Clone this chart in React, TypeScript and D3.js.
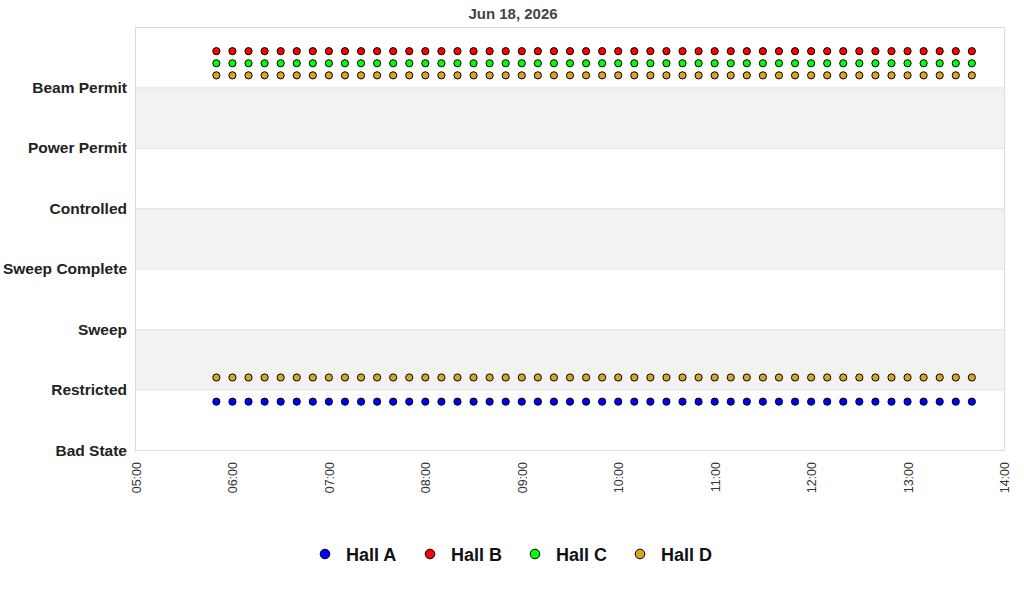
import React, { useEffect, useRef } from 'react';
import * as d3 from 'd3';

// status levels shown on the y axis (bottom to top)
const stateLabels = ['Bad State', 'Restricted', 'Sweep', 'Sweep Complete', 'Controlled', 'Power Permit', 'Beam Permit'];

const chartTitle = 'Jun 18, 2026';
const xTickLabels = ['05:00', '06:00', '07:00', '08:00', '09:00', '10:00', '11:00', '12:00', '13:00', '14:00'];

// sample times (one every 10 minutes)
const times = [
  '05:50',
  '06:00', '06:10', '06:20', '06:30', '06:40', '06:50',
  '07:00', '07:10', '07:20', '07:30', '07:40', '07:50',
  '08:00', '08:10', '08:20', '08:30', '08:40', '08:50',
  '09:00', '09:10', '09:20', '09:30', '09:40', '09:50',
  '10:00', '10:10', '10:20', '10:30', '10:40', '10:50',
  '11:00', '11:10', '11:20', '11:30', '11:40', '11:50',
  '12:00', '12:10', '12:20', '12:30', '12:40', '12:50',
  '13:00', '13:10', '13:20', '13:30', '13:40',
];

// plotted level for each hall at each time (state index + small hall offset)
const hallA = [
  0.8, 0.8, 0.8, 0.8, 0.8, 0.8, 0.8, 0.8, 0.8, 0.8, 0.8, 0.8,
  0.8, 0.8, 0.8, 0.8, 0.8, 0.8, 0.8, 0.8, 0.8, 0.8, 0.8, 0.8,
  0.8, 0.8, 0.8, 0.8, 0.8, 0.8, 0.8, 0.8, 0.8, 0.8, 0.8, 0.8,
  0.8, 0.8, 0.8, 0.8, 0.8, 0.8, 0.8, 0.8, 0.8, 0.8, 0.8, 0.8,
];
const hallB = [
  6.6, 6.6, 6.6, 6.6, 6.6, 6.6, 6.6, 6.6, 6.6, 6.6, 6.6, 6.6,
  6.6, 6.6, 6.6, 6.6, 6.6, 6.6, 6.6, 6.6, 6.6, 6.6, 6.6, 6.6,
  6.6, 6.6, 6.6, 6.6, 6.6, 6.6, 6.6, 6.6, 6.6, 6.6, 6.6, 6.6,
  6.6, 6.6, 6.6, 6.6, 6.6, 6.6, 6.6, 6.6, 6.6, 6.6, 6.6, 6.6,
];
const hallC = [
  6.4, 6.4, 6.4, 6.4, 6.4, 6.4, 6.4, 6.4, 6.4, 6.4, 6.4, 6.4,
  6.4, 6.4, 6.4, 6.4, 6.4, 6.4, 6.4, 6.4, 6.4, 6.4, 6.4, 6.4,
  6.4, 6.4, 6.4, 6.4, 6.4, 6.4, 6.4, 6.4, 6.4, 6.4, 6.4, 6.4,
  6.4, 6.4, 6.4, 6.4, 6.4, 6.4, 6.4, 6.4, 6.4, 6.4, 6.4, 6.4,
];
const hallD = [
  6.2, 6.2, 6.2, 6.2, 6.2, 6.2, 6.2, 6.2, 6.2, 6.2, 6.2, 6.2,
  6.2, 6.2, 6.2, 6.2, 6.2, 6.2, 6.2, 6.2, 6.2, 6.2, 6.2, 6.2,
  6.2, 6.2, 6.2, 6.2, 6.2, 6.2, 6.2, 6.2, 6.2, 6.2, 6.2, 6.2,
  6.2, 6.2, 6.2, 6.2, 6.2, 6.2, 6.2, 6.2, 6.2, 6.2, 6.2, 6.2,
];
// Hall D also reports a second (restricted) state row
const hallDRestricted = [
  1.2, 1.2, 1.2, 1.2, 1.2, 1.2, 1.2, 1.2, 1.2, 1.2, 1.2, 1.2,
  1.2, 1.2, 1.2, 1.2, 1.2, 1.2, 1.2, 1.2, 1.2, 1.2, 1.2, 1.2,
  1.2, 1.2, 1.2, 1.2, 1.2, 1.2, 1.2, 1.2, 1.2, 1.2, 1.2, 1.2,
  1.2, 1.2, 1.2, 1.2, 1.2, 1.2, 1.2, 1.2, 1.2, 1.2, 1.2, 1.2,
];

const legendNames = ['Hall A', 'Hall B', 'Hall C', 'Hall D'];
const hallColors = ['#0000ff', '#ff0000', '#00ff00', '#daa520'];

const FONT = '"Liberation Sans", Arial, Helvetica, sans-serif';

const App: React.FC = () => {
  const svgRef = useRef<SVGSVGElement>(null);

  useEffect(() => {
    if (!svgRef.current) return;
    const svg = d3.select(svgRef.current);
    svg.selectAll('*').remove();

    const width = 1024;
    const height = 600;
    const margin = { top: 27, right: 20, bottom: 150, left: 136 };
    const innerW = width - margin.left - margin.right;
    const innerH = height - margin.top - margin.bottom;

    const parse = d3.timeParse('%Y-%m-%d %H:%M');
    const day = '2026-06-18';

    const x = d3.scaleTime()
      .domain([parse(`${day} 05:00`)!, parse(`${day} 14:00`)!])
      .range([0, innerW]);
    const y = d3.scaleLinear()
      .domain([0, stateLabels.length])
      .range([innerH, 0]);

    const g = svg.append('g').attr('transform', `translate(${margin.left},${margin.top})`);

    // alternating bands
    const bands = d3.range(1, stateLabels.length, 2);
    g.selectAll('.band')
      .data(bands)
      .enter()
      .append('rect')
      .attr('x', 0)
      .attr('width', innerW)
      .attr('y', d => y(d + 1))
      .attr('height', d => y(d) - y(d + 1))
      .style('fill', '#f2f2f2');

    // horizontal grid lines
    g.selectAll('.grid')
      .data(d3.range(1, stateLabels.length))
      .enter()
      .append('line')
      .attr('x1', 0)
      .attr('x2', innerW)
      .attr('y1', d => y(d) + 0.5)
      .attr('y2', d => y(d) + 0.5)
      .style('stroke', '#e4e4e4')
      .style('stroke-width', 1);

    // plot frame
    g.append('rect')
      .attr('x', -0.5)
      .attr('y', 0.5)
      .attr('width', innerW + 1)
      .attr('height', innerH)
      .style('fill', 'none')
      .style('stroke', '#dcdcdc')
      .style('stroke-width', 1);

    // y labels
    g.selectAll('.ylabel')
      .data(stateLabels)
      .enter()
      .append('text')
      .attr('x', -9)
      .attr('y', (_d, i) => y(i) + 5.5)
      .attr('text-anchor', 'end')
      .style('font-family', FONT)
      .style('font-size', '15.5px')
      .style('font-weight', 'bold')
      .style('fill', '#222')
      .text(d => d);

    // x labels (rotated)
    g.selectAll('.xlabel')
      .data(xTickLabels)
      .enter()
      .append('text')
      .attr('transform', d => `translate(${x(parse(`${day} ${d}`)!) + 5},${innerH + 12}) rotate(-90)`)
      .attr('text-anchor', 'end')
      .style('font-family', FONT)
      .style('font-size', '12.5px')
      .style('fill', '#333')
      .text(d => d);

    // series
    const series = [
      { values: hallA, color: hallColors[0] },
      { values: hallB, color: hallColors[1] },
      { values: hallC, color: hallColors[2] },
      { values: hallD, color: hallColors[3] },
      { values: hallDRestricted, color: hallColors[3] },
    ];

    series.forEach(s => {
      g.append('g')
        .selectAll('circle')
        .data(times.map((t, i) => ({ t: parse(`${day} ${t}`)!, v: s.values[i] })))
        .enter()
        .append('circle')
        .attr('cx', d => x(d.t))
        .attr('cy', d => y(d.v))
        .attr('r', 3.6)
        .style('fill', s.color)
        .style('stroke', '#000')
        .style('stroke-width', 1);
    });

    // title
    svg.append('text')
      .attr('x', 513)
      .attr('y', 18.5)
      .attr('text-anchor', 'middle')
      .style('font-family', FONT)
      .style('font-size', '15px')
      .style('font-weight', 'bold')
      .style('fill', '#444')
      .text(chartTitle);

    // legend
    const legend = svg.append('g').attr('transform', 'translate(325,554)');
    const items = legend.selectAll('.item')
      .data(legendNames)
      .enter()
      .append('g')
      .attr('transform', (_d, i) => `translate(${i * 105},0)`);
    items.append('circle')
      .attr('r', 4.8)
      .style('fill', (_d, i) => hallColors[i])
      .style('stroke', '#000')
      .style('stroke-width', 1);
    items.append('text')
      .attr('x', 21)
      .attr('y', 7)
      .style('font-family', FONT)
      .style('font-size', '18px')
      .style('font-weight', 'bold')
      .style('fill', '#111')
      .text(d => d);
  }, []);

  return (
    <svg
      ref={svgRef}
      width={1024}
      height={600}
      style={{ position: 'absolute', left: 0, top: 0, background: '#fff' }}
    />
  );
};

export default App;
